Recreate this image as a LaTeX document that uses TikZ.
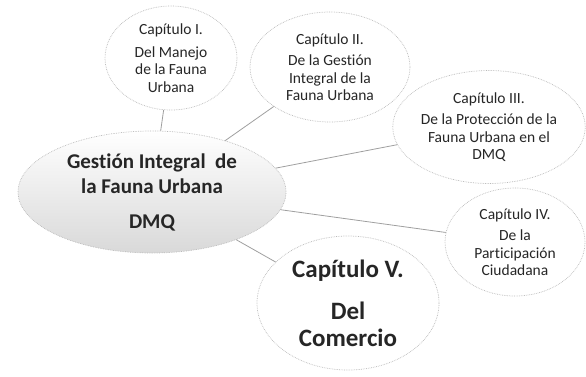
\documentclass[tikz,border=0pt]{standalone}
\usepackage{fontspec}
\setmainfont{Carlito}[Ligatures=NoCommon]
\usetikzlibrary{shapes.geometric}

\begin{document}
\begin{tikzpicture}[x=1pt,y=-1pt,
    capitulo/.style={ellipse,draw=gray!55,densely dotted,line width=0.7pt,fill=white,inner sep=0pt,align=center,text=black!85,font=\fontsize{15.5}{17.5}\selectfont},
    enlace/.style={draw=gray!75,line width=0.8pt}]
        \useasboundingbox (0,0) rectangle (586,376);
        \node[capitulo,minimum width=268pt,minimum height=122pt,top color=white,bottom color=gray!30,font=\fontsize{21}{25}\selectfont\bfseries] (gestion) at (152,192) {Gestión Integral\ \ de\\ la Fauna Urbana\\[10pt] DMQ};
        \node[capitulo,minimum width=132pt,minimum height=104pt] (cap1) at (171,58) {Capítulo I.\\[5pt] Del Manejo\\ de la Fauna\\ Urbana};
        \node[capitulo,minimum width=160pt,minimum height=110pt] (cap2) at (330,67) {Capítulo II.\\[4pt] De la Gestión\\ Integral de la\\ Fauna Urbana};
        \node[capitulo,minimum width=192pt,minimum height=113pt] (cap3) at (489,127) {Capítulo III.\\[4pt] De la Protección de la\\ Fauna Urbana en el\\ DMQ};
        \node[capitulo,minimum width=140pt,minimum height=108pt] (cap4) at (515,242) {Capítulo IV.\\[4pt] De la\\ Participación\\ Ciudadana};
        \node[capitulo,minimum width=182pt,minimum height=134pt,font=\fontsize{25}{27}\selectfont\bfseries] (cap5) at (348,303) {Capítulo V.\\[15pt] Del\\ Comercio};
        \draw[enlace] (gestion) -- (cap1);
        \draw[enlace] (gestion) -- (cap2);
        \draw[enlace] (gestion) -- (cap3);
        \draw[enlace] (gestion) -- (cap4);
        \draw[enlace] (gestion) -- (cap5);
    \end{tikzpicture}
\end{document}
